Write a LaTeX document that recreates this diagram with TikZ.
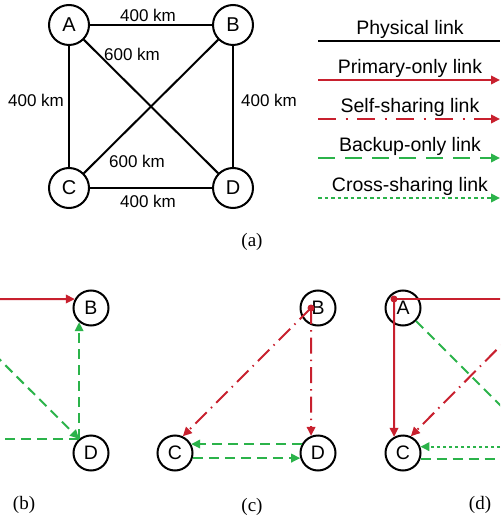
\documentclass[tikz,border=0pt]{standalone}
\usepackage{fontspec}
\setmainfont{Liberation Sans}
\newfontfamily\seriffont{Liberation Serif}
\usetikzlibrary{arrows.meta}
\definecolor{lred}{RGB}{200,32,46}
\definecolor{lgreen}{RGB}{43,179,74}
\begin{document}
\begin{tikzpicture}[x=1pt,y=-1pt,
  bignode/.style={circle,draw,line width=2pt,minimum size=40pt,inner sep=0pt,font=\fontsize{20}{20}\selectfont},
  smallnode/.style={circle,draw,line width=2pt,minimum size=35pt,inner sep=0pt,font=\fontsize{19.5}{19.5}\selectfont},
  phys/.style={line width=2pt},
  arrtip/.style={-{Triangle[length=9pt,width=8.5pt]}},
  prim/.style={lred,line width=2pt,arrtip},
  self/.style={lred,line width=2pt,arrtip,dash pattern=on 16pt off 6pt on 1.5pt off 6pt},
  backup/.style={lgreen,line width=2pt,arrtip,dash pattern=on 10pt off 6pt},
  cross/.style={lgreen,line width=2pt,arrtip,dash pattern=on 3pt off 3pt},
  legself/.style={lred,line width=2pt,arrtip,dash pattern=on 18pt off 9.5pt on 2pt off 9.5pt},
  legbackup/.style={lgreen,line width=2pt,arrtip,dash pattern=on 17pt off 10pt},
  legcross/.style={lgreen,line width=2pt,arrtip,dash pattern=on 3.5pt off 3pt},
  dist/.style={font=\fontsize{17}{17}\selectfont,inner sep=0pt},
  legtext/.style={font=\fontsize{19.5}{19.5}\selectfont,anchor=base,inner sep=0pt},
  sublabel/.style={font=\seriffont\fontsize{19}{19}\selectfont,inner sep=0pt},
  reddot/.style={fill=lred,circle,inner sep=0pt,minimum size=7pt}
]
\useasboundingbox (0,0) rectangle (500,518);
\clip (0,0) rectangle (500,518);

% ---------- (a) physical topology ----------
\node[bignode] (A) at (69,25) {A};
\node[bignode] (B) at (233,25) {B};
\node[bignode] (C) at (69,188) {C};
\node[bignode] (D) at (233,188) {D};
\draw[phys] (A) -- (B);
\draw[phys] (A) -- (C);
\draw[phys] (A) -- (D);
\draw[phys] (B) -- (D);
\draw[phys] (B) -- (C);
\draw[phys] (C) -- (D);
\node[dist] (dAB) at (148,15) {400 km};
\node[dist] (dAD) at (132,54) {600 km};
\node[dist] (dAC) at (36,100) {400 km};
\node[dist] (dBD) at (269,100) {400 km};
\node[dist] (dBC) at (137,161) {600 km};
\node[dist] (dCD) at (148,201) {400 km};
\node[sublabel] (la) at (252,242) {(a)};

% ---------- legend ----------
\coordinate (g1s) at (318,41);  \coordinate (g1e) at (500,41);
\coordinate (g2s) at (318,80);  \coordinate (g2e) at (500,80);
\coordinate (g3s) at (318,119); \coordinate (g3e) at (500,119);
\coordinate (g4s) at (318,158); \coordinate (g4e) at (500,158);
\coordinate (g5s) at (318,198); \coordinate (g5e) at (500,198);
\draw[phys] (g1s) -- (g1e);
\draw[prim] (g2s) -- (g2e);
\draw[legself] (g3s) -- (g3e);
\draw[legbackup] (g4s) -- (g4e);
\draw[legcross] (g5s) -- (g5e);
\node[legtext] (t1) at (410,34.7) {Physical link};
\node[legtext] (t2) at (410,73.7) {Primary-only link};
\node[legtext] (t3) at (410,112.7) {Self-sharing link};
\node[legtext] (t4) at (410,151.7) {Backup-only link};
\node[legtext] (t5) at (410,191.7) {Cross-sharing link};

% ---------- (b) ----------
\node[smallnode] (bB) at (91,308) {B};
\node[smallnode] (bD) at (91,453) {D};
\coordinate (bAdot) at (-61,299);
\coordinate (bAd) at (-40,320);
\coordinate (bCx) at (-20,0);
\draw[prim] (bAdot) -- (bB.151);
\draw[backup] (bD.130) -- (bB.230);
\draw[backup] (bAd) -- (bD.130);
\draw[backup] (bD.130) -- (bD.130 -| bCx);
\node[sublabel] (lb) at (24,505) {(b)};

% ---------- (c) ----------
\node[smallnode] (cB) at (318,308) {B};
\node[smallnode] (cC) at (175,453) {C};
\node[smallnode] (cD) at (318,453) {D};
\node[reddot] (cdot) at (311,308) {};
\draw[self] (cdot.center) -- (cC.65);
\draw[self] (cdot.center) -- (cD.112);
\draw[backup] (cD.151) -- (cC.29);
\draw[backup] (cC.-16) -- (cD.196);
\node[sublabel] (lc) at (252,507) {(c)};

% ---------- (d) ----------
\node[smallnode] (dA) at (403,308) {A};
\node[smallnode] (dC) at (403,453) {C};
\node[reddot] (ddot) at (394,299) {};
\coordinate (dBin) at (530,299);
\coordinate (dDin) at (534,439);
\coordinate (dBdot) at (538,308);
\coordinate (dDx) at (530,0);
\draw[prim] (ddot.center) -- (dBin);
\draw[prim] (ddot.center) -- (dC.119);
\draw[backup] (dA.-45) -- (dDin);
\draw[self] (dBdot) -- (dC.65);
\draw[cross] (dC.20 -| dDx) -- (dC.20);
\draw[backup] (dC.-18) -- (dC.-18 -| dDx);
\node[sublabel] (ld) at (480,505) {(d)};
\end{tikzpicture}
\end{document}
